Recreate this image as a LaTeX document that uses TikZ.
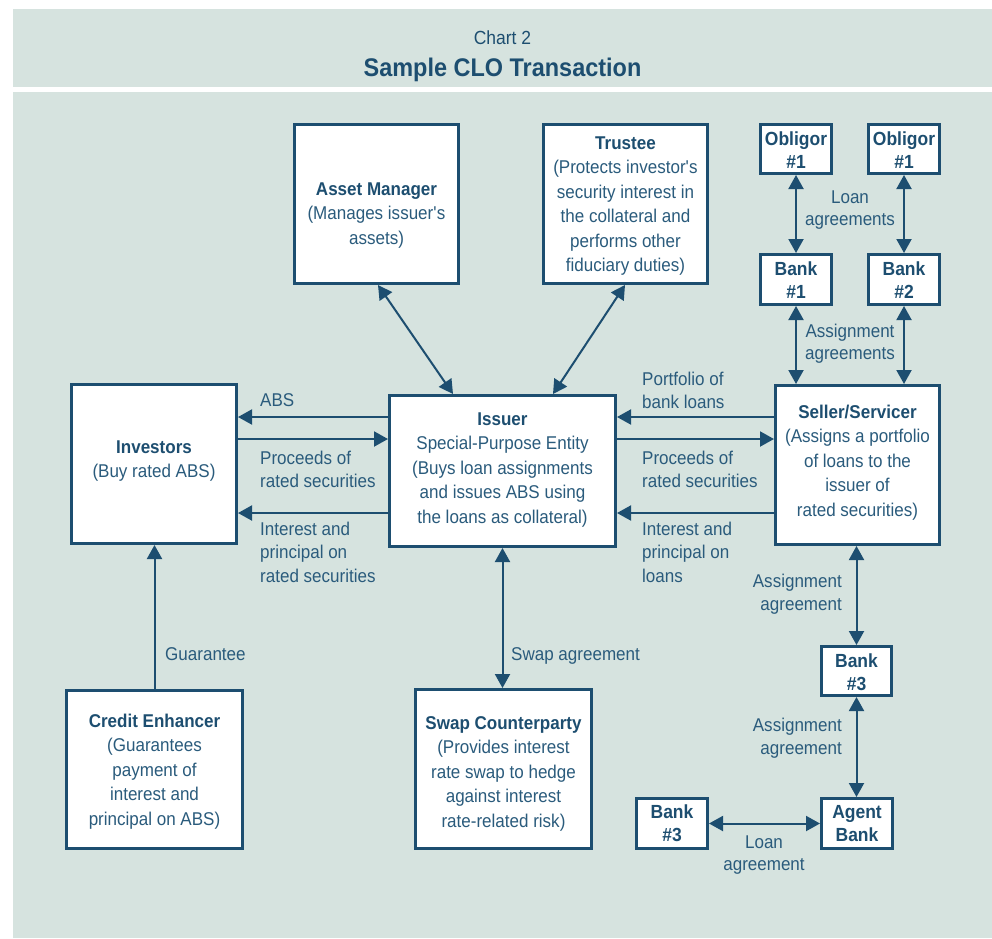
\documentclass[tikz,border=0pt]{standalone}
\usepackage{fontspec}
\setmainfont{Liberation Sans}[FakeStretch=0.92]
\usetikzlibrary{arrows.meta,calc}
\definecolor{panel}{HTML}{D6E3DF}
\definecolor{navy}{HTML}{1D4E70}
\definecolor{ink}{HTML}{2A5B7C}

\begin{document}
\begin{tikzpicture}[x=1pt,y=-1pt,
  box/.style={draw=navy, line width=3pt, fill=white, inner sep=0pt},
  % multi-line texts are placed by the baseline of their last line
  boxtext/.style={text=ink, align=center, inner sep=0pt, anchor=base,
    font=\fontsize{18.5}{24.5}\selectfont},
  smalltext/.style={boxtext, font=\fontsize{19}{23.5}\selectfont\bfseries, text=navy},
  lbl/.style={text=ink, inner sep=0pt, anchor=base west, align=left,
    font=\fontsize{18.5}{23.5}\selectfont},
  conn/.style={draw=navy, line width=2pt},
  tip/.style={conn, -{Triangle[length=14pt,width=15pt]}},
  twoway/.style={conn, {Triangle[length=14pt,width=15pt]}-{Triangle[length=14pt,width=15pt]}},
  hd/.style={text=navy, inner sep=0pt, anchor=base},
]
% canvas and panels
\path[fill=white] (0,0) rectangle (992,938);
\useasboundingbox (0,0) rectangle (992,938);
\fill[panel] (13,9) rectangle (992,87);
\fill[panel] (13,92) rectangle (992,938);

% heading
\node[hd, font=\fontsize{19}{23}\selectfont] (chart) at (502.5,44) {Chart 2};
\node[hd, font=\fontsize{25.5}{30}\selectfont\bfseries] (title) at (502.5,76) {Sample CLO Transaction};

% boxes
\node[box, minimum width=164pt, minimum height=159pt] (am)   at (376.5,204) {};
\node[box, minimum width=164pt, minimum height=159pt] (tr)   at (625.5,204) {};
\node[box, minimum width=71pt,  minimum height=49pt]  (ob1)  at (796,149) {};
\node[box, minimum width=71pt,  minimum height=49pt]  (ob2)  at (904,149) {};
\node[box, minimum width=71pt,  minimum height=50pt]  (b1)   at (796,279.5) {};
\node[box, minimum width=71pt,  minimum height=50pt]  (b2)   at (904,279.5) {};
\node[box, minimum width=164pt, minimum height=159pt] (sel)  at (857.5,465) {};
\node[box, minimum width=165pt, minimum height=159pt] (inv)  at (154,464) {};
\node[box, minimum width=226pt, minimum height=151pt] (iss)  at (502.5,471) {};
\node[box, minimum width=176pt, minimum height=159pt] (swap) at (503.5,769) {};
\node[box, minimum width=176pt, minimum height=158pt] (ce)   at (154.5,769) {};
\node[box, minimum width=70pt,  minimum height=49pt]  (b3)   at (856.5,671) {};
\node[box, minimum width=71pt,  minimum height=50pt]  (ag)   at (857,823.5) {};
\node[box, minimum width=71pt,  minimum height=50pt]  (b3l)  at (672,823.5) {};

% box contents
\node[boxtext] (amt) at (376.5,244) {\textbf{\color{navy}Asset Manager}\\(Manages issuer\textquotesingle s\\assets)};
\node[boxtext] (trt) at (625.5,271.5) {\textbf{\color{navy}Trustee}\\(Protects investor\textquotesingle s\\security interest in\\the collateral and\\performs other\\fiduciary duties)};
\node[smalltext] (ob1t) at (796,168.5) {Obligor\\\#1};
\node[smalltext] (ob2t) at (904,168.5) {Obligor\\\#1};
\node[smalltext] (b1t) at (796,298.5) {Bank\\\#1};
\node[smalltext] (b2t) at (904,298.5) {Bank\\\#2};
\node[boxtext] (selt) at (857.5,516) {\textbf{\color{navy}Seller/Servicer}\\(Assigns a portfolio\\of loans to the\\issuer of\\rated securities)};
\node[boxtext] (invt) at (154,477.5) {\textbf{\color{navy}Investors}\\(Buy rated ABS)};
\node[boxtext] (isst) at (502.5,523) {\textbf{\color{navy}Issuer}\\Special-Purpose Entity\\(Buys loan assignments\\and issues ABS using\\the loans as collateral)};
\node[boxtext] (swapt) at (503.5,827) {\textbf{\color{navy}Swap Counterparty}\\(Provides interest\\rate swap to hedge\\against interest\\rate-related risk)};
\node[boxtext] (cet) at (154.5,825) {\textbf{\color{navy}Credit Enhancer}\\(Guarantees\\payment of\\interest and\\principal on ABS)};
\node[smalltext] (b3t) at (856.5,690.5) {Bank\\\#3};
\node[smalltext] (agt) at (857,841.5) {Agent\\Bank};
\node[smalltext] (b3lt) at (672,841.5) {Bank\\\#3};

% flows between investors, issuer and seller
\draw[tip] (iss.west |- 0,417) -- (inv.east |- 0,417);
\draw[tip] (inv.east |- 0,439) -- (iss.west |- 0,439);
\draw[tip] (iss.west |- 0,513) -- (inv.east |- 0,513);
\draw[tip] (sel.west |- 0,417) -- (iss.east |- 0,417);
\draw[tip] (iss.east |- 0,439) -- (sel.west |- 0,439);
\draw[tip] (sel.west |- 0,513) -- (iss.east |- 0,513);

% issuer's partners
\draw[twoway] (am.south -| 378,0) -- (iss.north -| 453,0);
\draw[twoway] (tr.south -| 625,0) -- (iss.north -| 553,0);
\draw[twoway] (iss.south) -- (iss.south |- swap.north);
\draw[tip] (ce.north) -- (ce.north |- inv.south);

% loan origination chain
\draw[twoway] (ob1.south) -- (b1.north);
\draw[twoway] (ob2.south) -- (b2.north);
\draw[twoway] (b1.south) -- (b1.south |- sel.north);
\draw[twoway] (b2.south) -- (b2.south |- sel.north);
\draw[twoway] (b3.north |- sel.south) -- (b3.north);
\draw[twoway] (b3.south) -- (b3.south |- ag.north);
\draw[twoway] (b3l.east) -- (ag.west);

% connector labels
\node[lbl] (l1) at (260,406) {ABS};
\node[lbl] (l2) at (260,487.5) {Proceeds of\\rated securities};
\node[lbl] (l3) at (260,582) {Interest and\\principal on\\rated securities};
\node[lbl] (l4) at (642,408.5) {Portfolio of\\bank loans};
\node[lbl] (l5) at (642,487.5) {Proceeds of\\rated securities};
\node[lbl] (l6) at (642,582) {Interest and\\principal on\\loans};
\node[lbl] (l7) at (165,660) {Guarantee};
\node[lbl] (l8) at (511,660) {Swap agreement};
\node[lbl, anchor=base, align=center, font=\fontsize{18.5}{22}\selectfont] (l9) at (850,225) {Loan\\agreements};
\node[lbl, anchor=base, align=center, font=\fontsize{18.5}{22.5}\selectfont] (l10) at (850,359.5) {Assignment\\agreements};
\node[lbl, anchor=base east, align=right] (l11) at (842,610.5) {Assignment\\agreement};
\node[lbl, anchor=base east, align=right] (l12) at (842,754.5) {Assignment\\agreement};
\node[lbl, anchor=base, align=center, font=\fontsize{18.5}{22}\selectfont] (l13) at (764,870) {Loan\\agreement};
\end{tikzpicture}
\end{document}
